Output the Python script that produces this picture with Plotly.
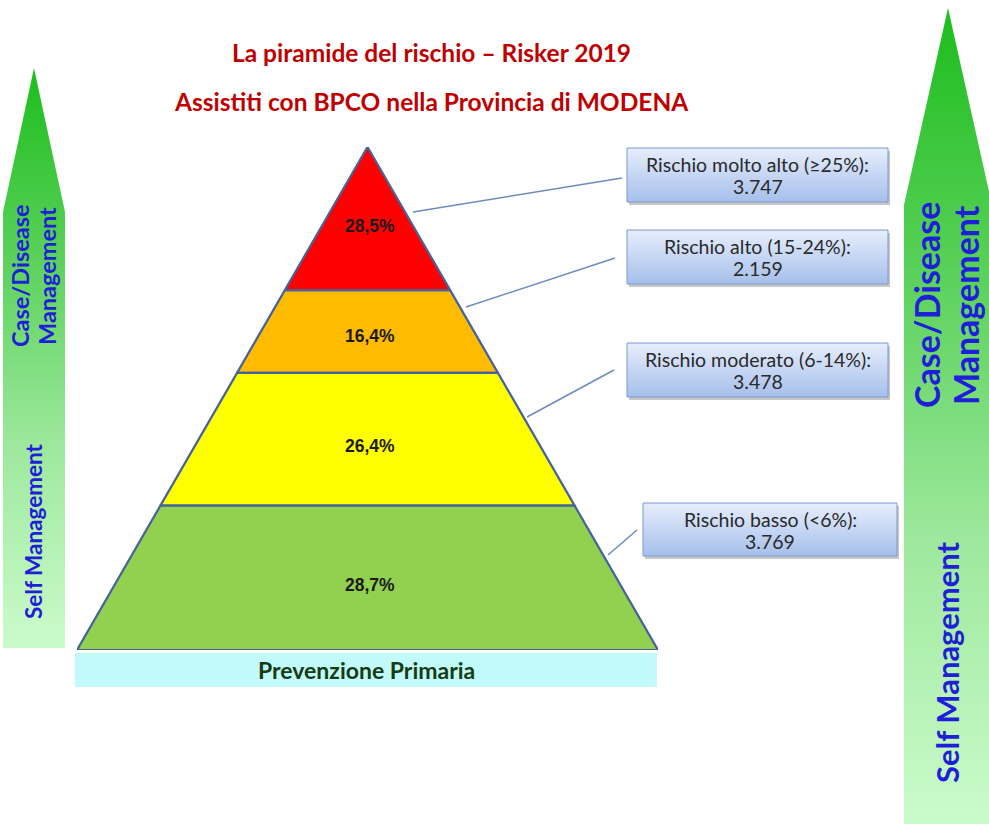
import plotly.graph_objects as go

W, H = 989, 826

# ---------------- data ----------------
categories = ["Rischio molto alto (≥25%)", "Rischio alto (15-24%)",
              "Rischio moderato (6-14%)", "Rischio basso (<6%)"]
counts = ["3.747", "2.159", "3.478", "3.769"]
pct = [28.5, 16.4, 26.4, 28.7]
pct_labels = ["28,5%", "16,4%", "26,4%", "28,7%"]
title_lines = ["La piramide del rischio – Risker 2019",
               "Assistiti con BPCO nella Provincia di MODENA"]
base_label = "Prevenzione Primaria"
arrow_top_lines = ["Case/Disease", "Management"]
arrow_bottom_label = "Self Management"

# ---------------- styles ----------------
layer_colors = ["#ff0000", "#ffbb00", "#ffff00", "#92d050"]
outline = "#46629a"
title_color = "#c00000"
arrow_text = "#1f1fd8"
FONT = "Lato"

fig = go.Figure()

# ---------- decorative overlay in pixel units (xaxis / yaxis) ----------
def poly(xs, ys, **kw):
    fig.add_trace(go.Scatter(x=xs + [xs[0]], y=ys + [ys[0]], mode="lines",
                             fill="toself", hoverinfo="skip", showlegend=False,
                             xaxis="x", yaxis="y", **kw))

green_scale = [[0, "#1dbd1d"], [0.3, "#55cf55"], [0.65, "#9de89d"], [1, "#cbfbcb"]]

# left arrow
la = dict(cx=34, half=31, top=68, neck=212, bottom=648)
poly([la["cx"], la["cx"] + la["half"], la["cx"] + la["half"], la["cx"] - la["half"], la["cx"] - la["half"]],
     [la["top"], la["neck"], la["bottom"], la["bottom"], la["neck"]],
     line=dict(width=0), fillcolor="#7fdc7f",
     fillgradient=dict(type="vertical", colorscale=green_scale, start=la["top"], stop=la["bottom"]))
# right arrow
ra = dict(cx=948, half=44, top=8, neck=205, bottom=824)
poly([ra["cx"], ra["cx"] + ra["half"], ra["cx"] + ra["half"], ra["cx"] - ra["half"], ra["cx"] - ra["half"]],
     [ra["top"], ra["neck"], ra["bottom"], ra["bottom"], ra["neck"]],
     line=dict(width=0), fillcolor="#7fdc7f",
     fillgradient=dict(type="vertical", colorscale=green_scale, start=ra["top"], stop=ra["bottom"]))

# base band
poly([75, 657, 657, 75], [653, 653, 687, 687], line=dict(width=0), fillcolor="#c2fafa")

# callout boxes
boxes = [(627, 148, 888, 202), (627, 230, 888, 284), (627, 343, 888, 397), (643, 503, 897, 556)]
for (x0, y0, x1, y1) in boxes:
    poly([x0 + 2, x1 + 2, x1 + 2, x0 + 2], [y0 + 3, y0 + 3, y1 + 3, y1 + 3],
         line=dict(width=0), fillcolor="rgba(0,0,0,0.22)")
    poly([x0, x1, x1, x0], [y0, y0, y1, y1], line=dict(width=1, color="#7c98d0"),
         fillcolor="#c4d6f5",
         fillgradient=dict(type="vertical", colorscale=[[0, "#e6eefc"], [1, "#a6bfeb"]],
                           start=y0, stop=y1))

# connector lines
connectors = [(413, 212, 622, 178), (466, 307, 615, 258), (527, 417, 614, 370), (608, 555, 637, 530)]
shapes = [dict(type="line", xref="x", yref="y", x0=a, y0=b, x1=c, y1=d,
               line=dict(color="#6d8bbd", width=1.5), layer="above")
          for (a, b, c, d) in connectors]

annotations = []

def txt(text, x, y, size, color, angle=0, ref=("x", "y"), family=FONT):
    annotations.append(dict(text=text, x=x, y=y, xref=ref[0], yref=ref[1], showarrow=False,
                            textangle=angle, font=dict(family=family, size=size, color=color)))

# titles
for t, yy in zip(title_lines, [52, 101]):
    txt(f"<b>{t}</b>", 431, yy, 24.5, title_color)
# box texts
for (x0, y0, x1, y1), cat, cnt in zip(boxes, categories, counts):
    cx = (x0 + x1) / 2
    txt(f"{cat}:", cx, y0 + 16, 19.5, "#2a2a2a")
    txt(cnt, cx, y0 + 38, 19.5, "#2a2a2a")
# base label
txt(f"<b>{base_label}</b>", 366, 670, 23, "#143c14")
# arrow labels
txt(f"<b>{arrow_top_lines[0]}</b>", 20, 276, 23.5, arrow_text, -90)
txt(f"<b>{arrow_top_lines[1]}</b>", 47, 276, 23.5, arrow_text, -90)
txt(f"<b>{arrow_bottom_label}</b>", 33, 531, 22.5, arrow_text, -90)
txt(f"<b>{arrow_top_lines[0]}</b>", 926, 305, 34, arrow_text, -90)
txt(f"<b>{arrow_top_lines[1]}</b>", 965, 305, 34, arrow_text, -90)
txt(f"<b>{arrow_bottom_label}</b>", 947, 662, 31, arrow_text, -90)

# ---------- pyramid in its own axes (xaxis2 / yaxis2): y = share from base to apex ----------
bounds = []
cum = 100.0
for p in pct:
    bounds.append((max(cum - p, 0.0), cum))
    cum -= p

for (lo, hi), col in zip(bounds, layer_colors):
    wl, wh = 1 - lo / 100, 1 - hi / 100
    fig.add_trace(go.Scatter(x=[-wl, wl, wh, -wh, -wl], y=[lo, lo, hi, hi, lo],
                             mode="lines", fill="toself", fillcolor=col,
                             line=dict(color=outline, width=2.2),
                             hoverinfo="skip", showlegend=False, xaxis="x2", yaxis="y2"))

for (lo, hi), lab in zip(bounds, pct_labels):
    txt(f"<b>{lab}</b>", 0.01, lo + 0.45 * (hi - lo), 17.5, "#1a1a1a",
        ref=("x2", "y2"), family="Liberation Sans")

hidden = dict(visible=False, showgrid=False, zeroline=False, fixedrange=True)
fig.update_layout(
    width=W, height=H, margin=dict(l=0, r=0, t=0, b=0),
    paper_bgcolor="white", plot_bgcolor="rgba(0,0,0,0)",
    xaxis=dict(range=[0, W], domain=[0, 1], **hidden),
    yaxis=dict(range=[H, 0], domain=[0, 1], **hidden),
    xaxis2=dict(range=[-1, 1], domain=[77 / W, 658 / W], anchor="y2", **hidden),
    yaxis2=dict(range=[0, 100], domain=[(H - 650) / H, (H - 147) / H], anchor="x2", **hidden),
    shapes=shapes, annotations=annotations, hovermode=False, showlegend=False,
)

fig.write_html("out.html", config={"displayModeBar": False},
               post_script="document.body.style.margin='0px';document.body.style.overflow='hidden';")
